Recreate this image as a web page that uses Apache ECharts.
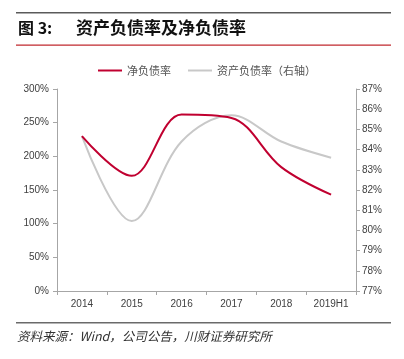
<!DOCTYPE html>
<html><head><meta charset="utf-8">
<script src="https://cdn.jsdelivr.net/npm/echarts@6/dist/echarts.min.js"></script>
<style>html,body{margin:0;padding:0;background:#fff}#c{width:404px;height:359px}</style>
</head><body><div id="c"></div>
<script>
const categories = ['2014','2015','2016','2017','2018','2019H1'];
const netDebtRatio = [230, 171, 262, 257, 184, 143];
const assetLiabRatio = [84.67, 80.46, 84.4, 85.7, 84.4, 83.6];
const leftTicks = [0, 50, 100, 150, 200, 250, 300];
const rightTicks = [77, 78, 79, 80, 81, 82, 83, 84, 85, 86, 87];
const seriesNames = ['净负债率', '资产负债率（右轴）'];

const chart = echarts.init(document.getElementById('c'), null, {renderer:'canvas'});
const lblFont = {fontFamily:'Liberation Sans, Arial, sans-serif', fontSize:10, color:'#404040'};
chart.setOption({
  animation:false,
  graphic:[
    {type:'rect', shape:{x:16,y:12,width:375,height:1.5}, style:{fill:'#5a5a5a'}},
    {type:'rect', shape:{x:16,y:44.5,width:375,height:1.2}, style:{fill:'#c0282e'}},
    {type:'rect', shape:{x:16,y:322,width:375,height:1.5}, style:{fill:'#6a6a6a'}},
    {type:'text', left:18, top:20, style:{text:'图 3:', font:'bold 16px "Noto Sans CJK SC", sans-serif', fill:'#111'}},
    {type:'text', left:76, top:19, style:{text:'资产负债率及净负债率', font:'bold 17px "Noto Sans CJK SC", sans-serif', fill:'#111'}},
    {type:'text', left:17, top:330, style:{text:'资料来源：Wind，公司公告，川财证券研究所', font:'italic 12.5px "Noto Sans CJK SC", sans-serif', fill:'#333'}}
  ],
  legend:{
    left:93, top:60, itemWidth:24, itemHeight:2, itemGap:17,
    icon:'rect',
    textStyle:{fontFamily:'"Noto Sans CJK SC", sans-serif', fontSize:11, color:'#555'},
    data:[
      {name:seriesNames[0], itemStyle:{color:'#c00030'}},
      {name:seriesNames[1], itemStyle:{color:'#c8c8c8'}}
    ]
  },
  grid:{left:57, right:48, top:89, bottom:68},
  xAxis:{
    type:'category', data:categories, boundaryGap:true,
    axisLine:{lineStyle:{color:'#a6a6a6', width:1}},
    axisTick:{show:true, length:4, lineStyle:{color:'#a6a6a6'}},
    axisLabel:Object.assign({margin:8}, lblFont)
  },
  yAxis:[
    {type:'value', min:leftTicks[0], max:leftTicks[leftTicks.length-1], interval:50,
     axisLine:{show:true, lineStyle:{color:'#a6a6a6'}},
     axisTick:{show:true, length:4, lineStyle:{color:'#a6a6a6'}},
     splitLine:{show:false},
     axisLabel:Object.assign({margin:8, formatter:v=>v+'%'}, lblFont)},
    {type:'value', min:rightTicks[0], max:rightTicks[rightTicks.length-1], interval:1,
     position:'right',
     axisLine:{show:true, lineStyle:{color:'#a6a6a6'}},
     axisTick:{show:true, length:4, lineStyle:{color:'#a6a6a6'}},
     splitLine:{show:false},
     axisLabel:Object.assign({margin:6, formatter:v=>v+'%'}, lblFont)}
  ],
  series:[
    {name:seriesNames[1], type:'line', yAxisIndex:1, data:assetLiabRatio, smooth:0.35,
     symbol:'none', lineStyle:{color:'#c8c8c8', width:2}, itemStyle:{color:'#c8c8c8'}, z:2},
    {name:seriesNames[0], type:'line', yAxisIndex:0, data:netDebtRatio, smooth:0.35,
     symbol:'none', lineStyle:{color:'#c00030', width:2}, itemStyle:{color:'#c00030'}, z:3}
  ]
});
</script></body></html>
